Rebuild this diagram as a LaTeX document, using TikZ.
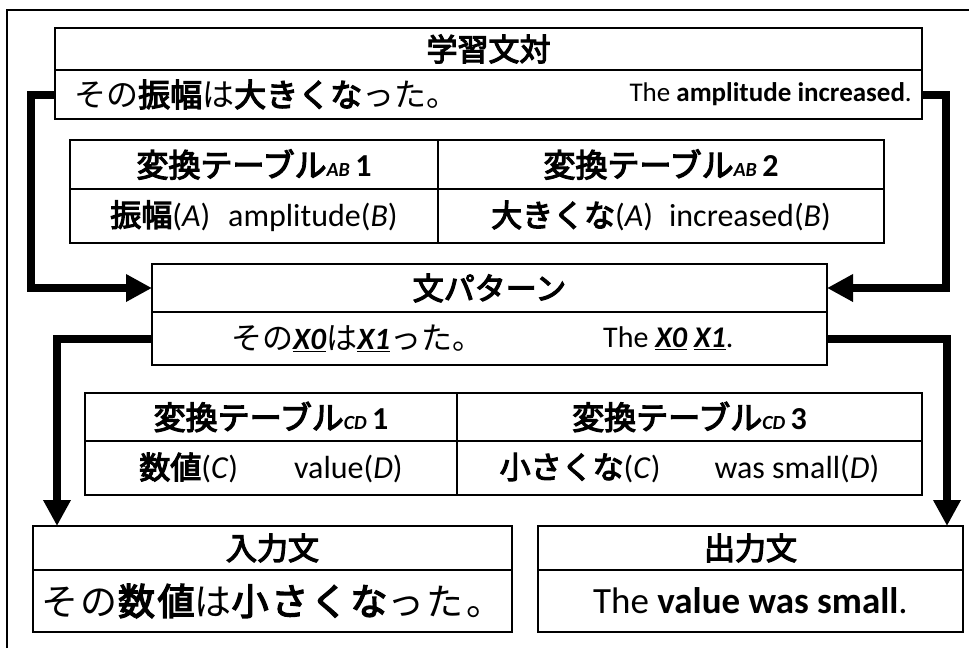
\documentclass[tikz,border=0pt]{standalone}
\usepackage{fontspec}
\setmainfont{Carlito}
\newfontfamily\jp[BoldFont={Noto Sans CJK JP}, BoldFeatures={FakeBold=3.8}]{Noto Sans CJK JP}
\newfontfamily\jpwide[LetterSpace=7, BoldFont={Noto Sans CJK JP}, BoldFeatures={FakeBold=3.8}]{Noto Sans CJK JP}
\usetikzlibrary{arrows.meta}
\newcommand\setfs[1]{\fontsize{#1}{#1}\selectfont}
\newcommand\jb[1]{{\jp\bfseries #1}}
\newcommand\jr[1]{{\jp #1}}
\newcommand\xvar[1]{\underline{\textbf{\textit{#1}}}}
\newcommand\sub[1]{{\setfs{20}\bfseries\itshape #1}}
\begin{document}
\begin{tikzpicture}[x=1pt,y=-1pt,
  cell/.style={draw, line width=2.4pt, inner sep=0pt, outer sep=0pt, anchor=north west},
  arr/.style={line width=8pt, line join=miter, -{Triangle[length=26pt,width=26pt]}},
  txt/.style={inner sep=0pt}]
\useasboundingbox (0,0) rectangle (969,648);
\draw[line width=1.3pt] (7,648) -- (7,10) -- (969,10);

% top pair box
\node[cell, minimum width=867pt, minimum height=42pt] (pairT) at (55,28) {\setfs{31}\jb{学習文対}};
\node[cell, minimum width=867pt, minimum height=49pt] (pairB) at (55,70) {};
\node[txt, anchor=west] (pairJ) at (74,94.5) {\setfs{32}\jr{その}\jb{振幅}\jr{は}\jb{大きくな}\jr{った。}};
\node[txt, anchor=east] (pairE) at (912,94.5) {\setfs{27}The \textbf{amplitude increased}.};

% table AB
\node[cell, minimum width=368pt, minimum height=49pt] (ab1h) at (70,140) {\setfs{32}\jb{変換テーブル}\sub{AB}\,\textbf{1}};
\node[cell, minimum width=368pt, minimum height=54pt] (ab1c) at (70,189) {\setfs{32}\jb{\setfs{31}振幅}(\textit{A})\hspace{18pt}amplitude(\textit{B})};
\node[cell, minimum width=446pt, minimum height=49pt] (ab2h) at (438,140) {\setfs{32}\jb{変換テーブル}\sub{AB}\,\textbf{2}};
\node[cell, minimum width=446pt, minimum height=54pt] (ab2c) at (438,189) {\setfs{32}\jb{\setfs{31}大きくな}(\textit{A})\hspace{16pt}increased(\textit{B})};

% pattern box
\node[cell, minimum width=675pt, minimum height=48pt] (patT) at (152,264) {\setfs{31}\jb{文パターン}};
\node[cell, minimum width=675pt, minimum height=53pt] (patB) at (152,312) {};
\node[txt, anchor=west] (patJ) at (231,338.5) {\setfs{31}\jr{その}\xvar{X0}\jr{は}\xvar{X1}\jr{った。}};
\node[txt, anchor=west] (patE) at (603,338.5) {\setfs{30}The \xvar{X0} \xvar{X1}.};

% table CD
\node[cell, minimum width=372pt, minimum height=48pt] (cd1h) at (85,393) {\setfs{32}\jb{変換テーブル}\sub{CD}\,\textbf{1}};
\node[cell, minimum width=372pt, minimum height=54pt] (cd1c) at (85,441) {\setfs{32}\jb{\setfs{31}数値}(\textit{C})\hspace{56pt}value(\textit{D})};
\node[cell, minimum width=465pt, minimum height=48pt] (cd3h) at (457,393) {\setfs{32}\jb{変換テーブル}\sub{CD}\,\textbf{3}};
\node[cell, minimum width=465pt, minimum height=54pt] (cd3c) at (457,441) {\setfs{32}\jb{\setfs{31}小さくな}(\textit{C})\hspace{54pt}was small(\textit{D})};

% input / output
\node[cell, minimum width=479pt, minimum height=44pt] (inT) at (33,526) {\setfs{31}\jb{入力文}};
\node[cell, minimum width=479pt, minimum height=62pt] (inB) at (33,570) {\setfs{37}{\jpwide その{\bfseries 数値}は{\bfseries 小さくな}った。}};
\node[cell, minimum width=425pt, minimum height=44pt] (outT) at (538,526) {\setfs{31}\jb{出力文}};
\node[cell, minimum width=425pt, minimum height=62pt] (outB) at (538,570) {\setfs{37}The \textbf{value was small}.};

\coordinate (inTop) at (57,526);
\coordinate (outTop) at (947,526);

% connectors
\draw[arr] (pairB.west) -- ++(-24,0) |- (patT.west);
\draw[arr] (pairB.east) -- ++(24,0) |- (patT.east);
\draw[arr] (patB.west) -| (inTop);
\draw[arr] (patB.east) -| (outTop);
\end{tikzpicture}
\end{document}
